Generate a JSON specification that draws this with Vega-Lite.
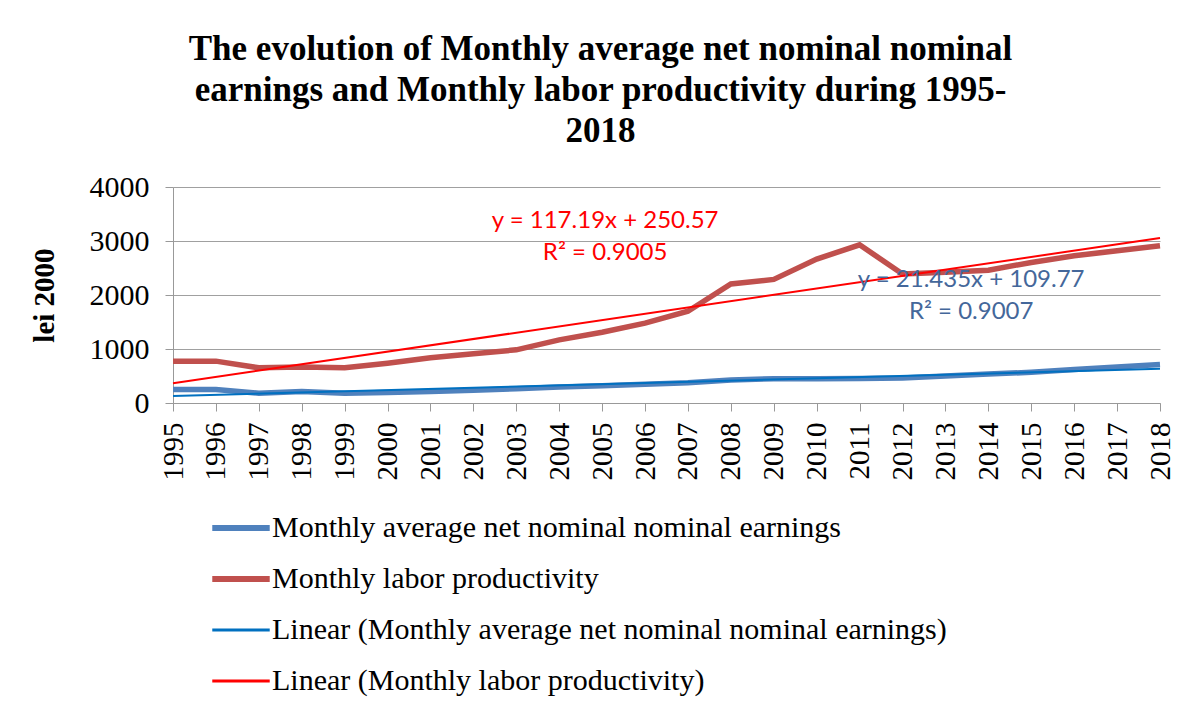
{
  "$schema": "https://vega.github.io/schema/vega-lite/v6.json",
  "autosize": "none",
  "width": 987,
  "height": 216,
  "padding": {"left": 173, "top": 187, "right": 26, "bottom": 315},
  "background": "white",
  "config": {"view": {"stroke": null}},
  "title": {
    "text": ["The evolution of Monthly average net nominal nominal", "earnings and Monthly labor productivity during 1995-", "2018"],
    "font": "Liberation Serif",
    "fontSize": 35,
    "fontWeight": "bold",
    "color": "#000000",
    "anchor": "middle",
    "dx": -66,
    "offset": 23,
    "lineHeight": 41
  },
  "datasets": {
    "main": [
      {"year": 1995, "value": 250, "series": "Monthly average net nominal nominal earnings", "trend": "Linear (Monthly average net nominal nominal earnings)"},
      {"year": 1996, "value": 250, "series": "Monthly average net nominal nominal earnings", "trend": "Linear (Monthly average net nominal nominal earnings)"},
      {"year": 1997, "value": 180, "series": "Monthly average net nominal nominal earnings", "trend": "Linear (Monthly average net nominal nominal earnings)"},
      {"year": 1998, "value": 215, "series": "Monthly average net nominal nominal earnings", "trend": "Linear (Monthly average net nominal nominal earnings)"},
      {"year": 1999, "value": 180, "series": "Monthly average net nominal nominal earnings", "trend": "Linear (Monthly average net nominal nominal earnings)"},
      {"year": 2000, "value": 195, "series": "Monthly average net nominal nominal earnings", "trend": "Linear (Monthly average net nominal nominal earnings)"},
      {"year": 2001, "value": 215, "series": "Monthly average net nominal nominal earnings", "trend": "Linear (Monthly average net nominal nominal earnings)"},
      {"year": 2002, "value": 235, "series": "Monthly average net nominal nominal earnings", "trend": "Linear (Monthly average net nominal nominal earnings)"},
      {"year": 2003, "value": 265, "series": "Monthly average net nominal nominal earnings", "trend": "Linear (Monthly average net nominal nominal earnings)"},
      {"year": 2004, "value": 295, "series": "Monthly average net nominal nominal earnings", "trend": "Linear (Monthly average net nominal nominal earnings)"},
      {"year": 2005, "value": 320, "series": "Monthly average net nominal nominal earnings", "trend": "Linear (Monthly average net nominal nominal earnings)"},
      {"year": 2006, "value": 345, "series": "Monthly average net nominal nominal earnings", "trend": "Linear (Monthly average net nominal nominal earnings)"},
      {"year": 2007, "value": 375, "series": "Monthly average net nominal nominal earnings", "trend": "Linear (Monthly average net nominal nominal earnings)"},
      {"year": 2008, "value": 425, "series": "Monthly average net nominal nominal earnings", "trend": "Linear (Monthly average net nominal nominal earnings)"},
      {"year": 2009, "value": 450, "series": "Monthly average net nominal nominal earnings", "trend": "Linear (Monthly average net nominal nominal earnings)"},
      {"year": 2010, "value": 450, "series": "Monthly average net nominal nominal earnings", "trend": "Linear (Monthly average net nominal nominal earnings)"},
      {"year": 2011, "value": 455, "series": "Monthly average net nominal nominal earnings", "trend": "Linear (Monthly average net nominal nominal earnings)"},
      {"year": 2012, "value": 465, "series": "Monthly average net nominal nominal earnings", "trend": "Linear (Monthly average net nominal nominal earnings)"},
      {"year": 2013, "value": 500, "series": "Monthly average net nominal nominal earnings", "trend": "Linear (Monthly average net nominal nominal earnings)"},
      {"year": 2014, "value": 535, "series": "Monthly average net nominal nominal earnings", "trend": "Linear (Monthly average net nominal nominal earnings)"},
      {"year": 2015, "value": 570, "series": "Monthly average net nominal nominal earnings", "trend": "Linear (Monthly average net nominal nominal earnings)"},
      {"year": 2016, "value": 620, "series": "Monthly average net nominal nominal earnings", "trend": "Linear (Monthly average net nominal nominal earnings)"},
      {"year": 2017, "value": 665, "series": "Monthly average net nominal nominal earnings", "trend": "Linear (Monthly average net nominal nominal earnings)"},
      {"year": 2018, "value": 715, "series": "Monthly average net nominal nominal earnings", "trend": "Linear (Monthly average net nominal nominal earnings)"},
      {"year": 1995, "value": 775, "series": "Monthly labor productivity", "trend": "Linear (Monthly labor productivity)"},
      {"year": 1996, "value": 775, "series": "Monthly labor productivity", "trend": "Linear (Monthly labor productivity)"},
      {"year": 1997, "value": 652, "series": "Monthly labor productivity", "trend": "Linear (Monthly labor productivity)"},
      {"year": 1998, "value": 665, "series": "Monthly labor productivity", "trend": "Linear (Monthly labor productivity)"},
      {"year": 1999, "value": 652, "series": "Monthly labor productivity", "trend": "Linear (Monthly labor productivity)"},
      {"year": 2000, "value": 738, "series": "Monthly labor productivity", "trend": "Linear (Monthly labor productivity)"},
      {"year": 2001, "value": 837, "series": "Monthly labor productivity", "trend": "Linear (Monthly labor productivity)"},
      {"year": 2002, "value": 911, "series": "Monthly labor productivity", "trend": "Linear (Monthly labor productivity)"},
      {"year": 2003, "value": 985, "series": "Monthly labor productivity", "trend": "Linear (Monthly labor productivity)"},
      {"year": 2004, "value": 1169, "series": "Monthly labor productivity", "trend": "Linear (Monthly labor productivity)"},
      {"year": 2005, "value": 1310, "series": "Monthly labor productivity", "trend": "Linear (Monthly labor productivity)"},
      {"year": 2006, "value": 1480, "series": "Monthly labor productivity", "trend": "Linear (Monthly labor productivity)"},
      {"year": 2007, "value": 1700, "series": "Monthly labor productivity", "trend": "Linear (Monthly labor productivity)"},
      {"year": 2008, "value": 2203, "series": "Monthly labor productivity", "trend": "Linear (Monthly labor productivity)"},
      {"year": 2009, "value": 2289, "series": "Monthly labor productivity", "trend": "Linear (Monthly labor productivity)"},
      {"year": 2010, "value": 2665, "series": "Monthly labor productivity", "trend": "Linear (Monthly labor productivity)"},
      {"year": 2011, "value": 2929, "series": "Monthly labor productivity", "trend": "Linear (Monthly labor productivity)"},
      {"year": 2012, "value": 2390, "series": "Monthly labor productivity", "trend": "Linear (Monthly labor productivity)"},
      {"year": 2013, "value": 2420, "series": "Monthly labor productivity", "trend": "Linear (Monthly labor productivity)"},
      {"year": 2014, "value": 2460, "series": "Monthly labor productivity", "trend": "Linear (Monthly labor productivity)"},
      {"year": 2015, "value": 2603, "series": "Monthly labor productivity", "trend": "Linear (Monthly labor productivity)"},
      {"year": 2016, "value": 2726, "series": "Monthly labor productivity", "trend": "Linear (Monthly labor productivity)"},
      {"year": 2017, "value": 2818, "series": "Monthly labor productivity", "trend": "Linear (Monthly labor productivity)"},
      {"year": 2018, "value": 2911, "series": "Monthly labor productivity", "trend": "Linear (Monthly labor productivity)"}
    ],
    "redLabels": [
      {"year": 2005.07, "value": 3370, "label": "y = 117.19x + 250.57"},
      {"year": 2005.07, "value": 2770, "label": "R² = 0.9005"}
    ],
    "blueLabels": [
      {"year": 2013.6, "value": 2270, "label": "y = 21.435x + 109.77"},
      {"year": 2013.6, "value": 1680, "label": "R² = 0.9007"}
    ]
  },
  "encoding": {
    "x": {
      "field": "year",
      "type": "quantitative",
      "scale": {"domain": [1995, 2018], "nice": false, "zero": false},
      "axis": {
        "title": null,
        "values": [1995,1996,1997,1998,1999,2000,2001,2002,2003,2004,2005,2006,2007,2008,2009,2010,2011,2012,2013,2014,2015,2016,2017,2018],
        "format": "d",
        "grid": false,
        "labelAngle": -90,
        "labelAlign": "right",
        "labelBaseline": "middle",
        "labelFont": "Liberation Serif",
        "labelFontSize": 29,
        "labelColor": "#000000",
        "labelPadding": 11,
        "labelOverlap": false,
        "labelFlush": false,
        "domainColor": "#999999",
        "tickColor": "#999999",
        "tickSize": 8
      }
    },
    "y": {
      "field": "value",
      "type": "quantitative",
      "scale": {"domain": [0, 4000], "nice": false},
      "axis": {
        "title": "lei 2000",
        "titleFont": "Liberation Serif",
        "titleFontSize": 29,
        "titleFontWeight": "bold",
        "titleColor": "#000000",
        "titlePadding": 30,
        "values": [0, 1000, 2000, 3000, 4000],
        "format": "d",
        "labelFont": "Liberation Serif",
        "labelFontSize": 30,
        "labelColor": "#000000",
        "labelPadding": 16,
        "gridColor": "#a0a0a0",
        "domainColor": "#999999",
        "tickColor": "#999999",
        "tickSize": 8
      }
    }
  },
  "layer": [
    {
      "data": {"name": "main"},
      "mark": {"type": "line", "strokeWidth": 5.5},
      "encoding": {
        "color": {
          "field": "series",
          "type": "nominal",
          "scale": {
            "domain": ["Monthly average net nominal nominal earnings", "Monthly labor productivity", "Linear (Monthly average net nominal nominal earnings)", "Linear (Monthly labor productivity)"],
            "range": ["#4F81BD", "#C0504D", "#0070C0", "#FF0000"]
          },
          "legend": {
            "title": null,
            "orient": "none",
            "legendX": 53,
            "legendY": 326,
            "direction": "vertical",
            "symbolType": "stroke",
            "symbolSize": 3300,
            "symbolStrokeWidth": 5,
            "labelFont": "Liberation Serif",
            "labelFontSize": 30,
            "labelColor": "#000000",
            "labelLimit": 1000,
            "labelOffset": 16,
            "rowPadding": 21,
            "encode": {
              "symbols": {"update": {"strokeWidth": {"signal": "datum.index >= 2 ? 3 : 6"}}}
            }
          }
        }
      }
    },
    {
      "data": {"name": "main"},
      "transform": [{"regression": "value", "on": "year", "groupby": ["trend"]}],
      "mark": {"type": "line", "strokeWidth": 2},
      "encoding": {
        "color": {"field": "trend", "type": "nominal"}
      }
    },
    {
      "data": {"name": "redLabels"},
      "mark": {"type": "text", "font": "Lato", "fontSize": 24, "color": "#FF0000", "align": "center", "baseline": "middle"},
      "encoding": {"text": {"field": "label"}}
    },
    {
      "data": {"name": "blueLabels"},
      "mark": {"type": "text", "font": "Lato", "fontSize": 24, "color": "#44679A", "align": "center", "baseline": "middle"},
      "encoding": {"text": {"field": "label"}}
    }
  ]
}
